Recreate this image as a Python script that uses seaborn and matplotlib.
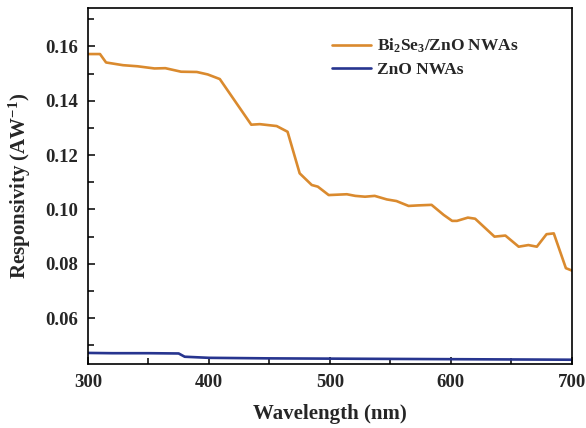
import matplotlib
matplotlib.use("Agg")
import matplotlib.pyplot as plt
from matplotlib.ticker import MultipleLocator
import numpy as np
import pandas as pd
import seaborn as sns

# Spectral responsivity of the two photodetectors
wl_bise = [300, 310, 315, 329, 341, 355, 364, 377, 390, 399, 409, 435, 442, 456,
           465, 475, 485, 490, 499, 514, 521, 529, 537, 547, 555, 565, 573, 584,
           594, 601, 605, 614, 620, 636, 645, 656, 664, 671, 679, 685, 695, 700]
resp_bise = [0.1572, 0.1572, 0.1541, 0.1531, 0.1527, 0.1519, 0.1520, 0.1507,
             0.1506, 0.1497, 0.1480, 0.1312, 0.1314, 0.1307, 0.1286, 0.1133,
             0.1090, 0.1084, 0.1053, 0.1056, 0.1050, 0.1047, 0.1050, 0.1037,
             0.1031, 0.1013, 0.1015, 0.1017, 0.0980, 0.0958, 0.0958, 0.0970,
             0.0966, 0.0900, 0.0904, 0.0863, 0.0869, 0.0863, 0.0909, 0.0912,
             0.0784, 0.0775]

wl_zno = [300, 320, 350, 375, 380, 400, 450, 500, 550, 600, 650, 700]
resp_zno = [0.0472, 0.0471, 0.0471, 0.0470, 0.0458, 0.0454, 0.0452, 0.0451,
            0.0450, 0.0449, 0.0448, 0.0447]

label_bise = r"Bi$_{\mathbf{2}}$Se$_{\mathbf{3}}$/ZnO NWAs"
label_zno = "ZnO NWAs"

sns.set_theme(style="white")
plt.rcParams["font.family"] = ["Liberation Serif", "DejaVu Serif"]
plt.rcParams["font.weight"] = "bold"
plt.rcParams["mathtext.fontset"] = "custom"
plt.rcParams["mathtext.rm"] = "Liberation Serif:bold"
plt.rcParams["mathtext.bf"] = "Liberation Serif:bold"
plt.rcParams["mathtext.it"] = "Liberation Serif:bold:italic"

fig, ax = plt.subplots(figsize=(5.86, 4.28), dpi=100)
fig.subplots_adjust(left=0.150, right=0.976, top=0.981, bottom=0.150)

df_b = pd.DataFrame({"Wavelength": wl_bise, "Resp": resp_bise})
df_z = pd.DataFrame({"Wavelength": wl_zno, "Resp": resp_zno})
sns.lineplot(data=df_b, x="Wavelength", y="Resp", ax=ax, color="#DA8A2E",
             linewidth=1.9, label=label_bise)
sns.lineplot(data=df_z, x="Wavelength", y="Resp", ax=ax, color="#27358F",
             linewidth=1.9, label=label_zno)

ax.set_xlim(300, 700)
ax.set_ylim(0.0432, 0.1741)
ax.xaxis.set_major_locator(MultipleLocator(100))
ax.xaxis.set_minor_locator(MultipleLocator(50))
ax.yaxis.set_major_locator(MultipleLocator(0.02))
ax.yaxis.set_minor_locator(MultipleLocator(0.01))
ax.set_yticks([0.06, 0.08, 0.10, 0.12, 0.14, 0.16])
ax.tick_params(which="both", direction="in", bottom=True, left=True,
               top=False, right=False, width=1.1, color="black")
ax.tick_params(which="major", length=5, labelsize=13.5, pad=7)
ax.tick_params(which="minor", length=4)
for lab in ax.get_xticklabels() + ax.get_yticklabels():
    lab.set_fontweight("bold")

for side in ["left", "bottom", "top", "right"]:
    ax.spines[side].set_color("black")
    ax.spines[side].set_linewidth(1.2)

ax.set_xlabel("Wavelength (nm)", fontsize=15, fontweight="bold", labelpad=10)
ax.set_ylabel(r"Responsivity (AW$^{\mathbf{-1}}$)", fontsize=15,
              fontweight="bold", labelpad=9)

leg = ax.legend(loc="upper left", bbox_to_anchor=(0.505, 0.92), frameon=False,
                fontsize=12.5, handlelength=2.2, handletextpad=0.4,
                labelspacing=0.4, borderaxespad=0, borderpad=0)
for t in leg.get_texts():
    t.set_fontweight("bold")

fig.savefig("out.png", dpi=100)
